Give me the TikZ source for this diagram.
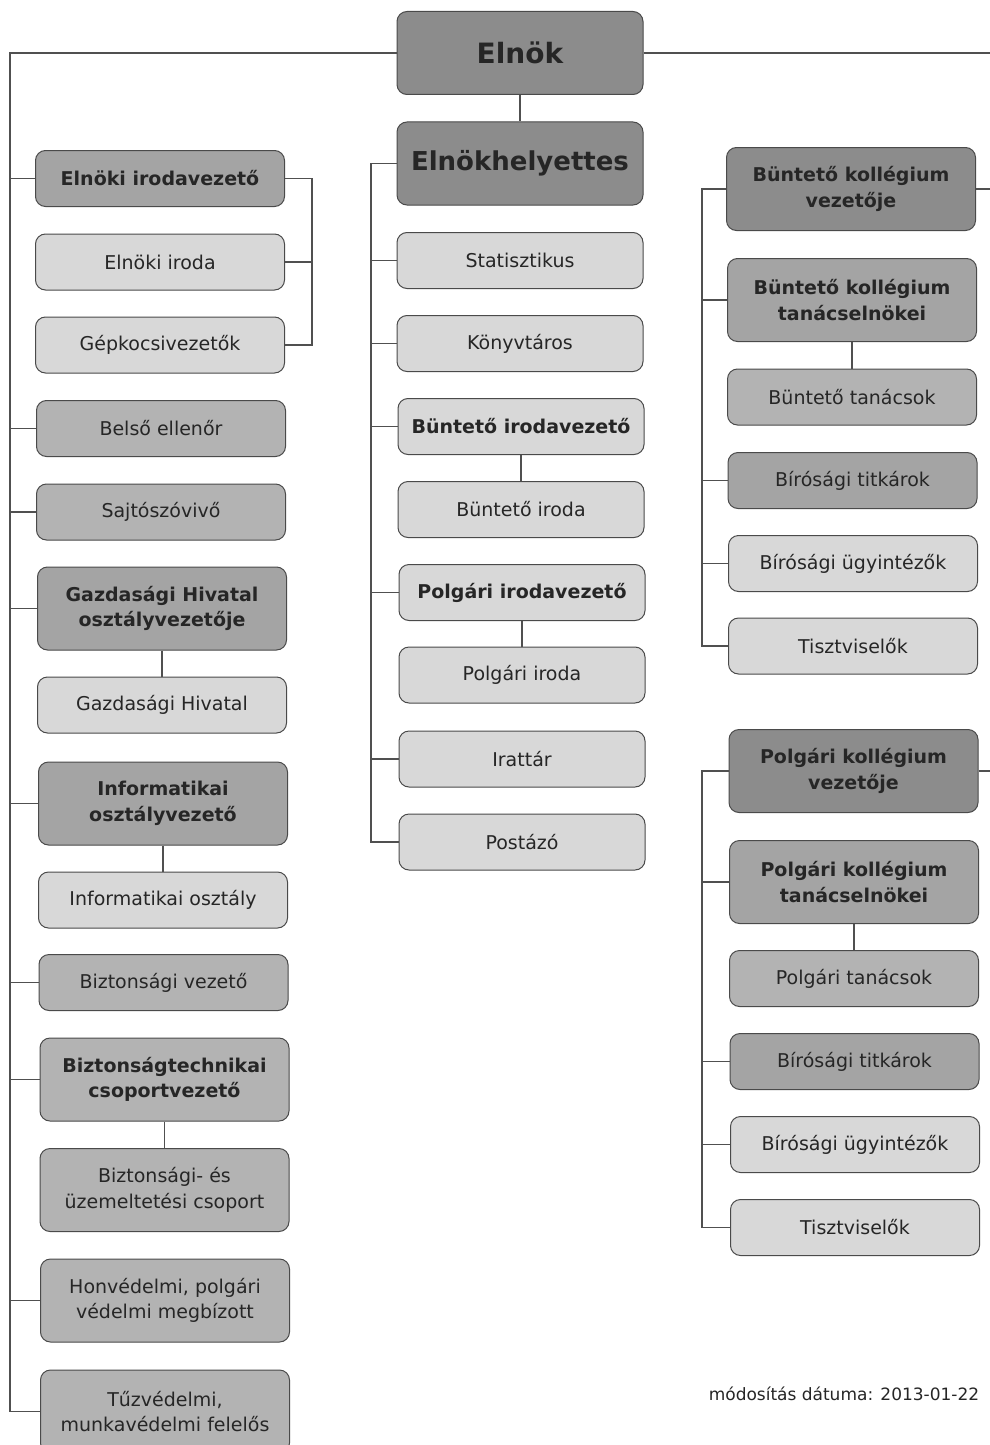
\documentclass[tikz,border=0pt]{standalone}
\usepackage{fontspec}
\setmainfont{DejaVu Sans}
\definecolor{cdark}{HTML}{8C8C8C}
\definecolor{cmdk}{HTML}{A4A4A4}
\definecolor{cmed}{HTML}{B3B3B3}
\definecolor{clite}{HTML}{D8D8D8}
\definecolor{bordc}{HTML}{4A4A4A}
\definecolor{linec}{HTML}{505050}
\definecolor{txtc}{HTML}{262626}
\tikzset{
  box/.style={draw=bordc, line width=0.5pt, rounded corners=5pt, minimum width=124.5pt,
    inner sep=0pt, align=center, text=txtc, font=\fontsize{9.5}{12.7}\selectfont},
  bb/.style={box, font=\fontsize{9.5}{12.7}\selectfont\bfseries},
  big/.style={box, font=\fontsize{13}{16}\selectfont\bfseries, minimum width=123pt, minimum height=41.5pt},
  bigger/.style={font=\fontsize{14}{16}\selectfont\bfseries},
  sg/.style={minimum height=28pt},
  db/.style={minimum height=41.5pt},
  dark/.style={fill=cdark},
  mdk/.style={fill=cmdk},
  med/.style={fill=cmed},
  lite/.style={fill=clite},
  ln/.style={draw=linec, line width=0.55pt}
}
\begin{document}
\begin{tikzpicture}[x=0.5pt,y=-0.5pt]
\useasboundingbox (0,0) rectangle (990,1445);
\fill[white] (0,0) rectangle (990,1445);
% ---------- middle column ----------
\node[big,bigger,dark] (elnok) at (520,53) {Elnök};
\node[big,dark] (elnh) at (520,163.5) {Elnökhelyettes};
\node[box,lite,sg,minimum width=123pt] (stat) at (520,260.5) {Statisztikus};
\node[box,lite,sg,minimum width=123pt] (konyv) at (520,343.5) {Könyvtáros};
\node[bb,lite,sg,minimum width=123pt] (biv) at (521,426.5) {Büntető irodavezető};
\node[box,lite,sg,minimum width=123pt] (biro) at (521,509.5) {Büntető iroda};
\node[bb,lite,sg,minimum width=123pt] (piv) at (522,592.5) {Polgári irodavezető};
\node[box,lite,sg,minimum width=123pt] (piro) at (522,675) {Polgári iroda};
\node[box,lite,sg,minimum width=123pt] (irat) at (522,759) {Irattár};
\node[box,lite,sg,minimum width=123pt] (post) at (522,842) {Postázó};
% ---------- left column ----------
\node[bb,mdk,sg] (eiv) at (160,178.5) {Elnöki irodavezető};
\node[box,lite,sg] (eiro) at (160,262) {Elnöki iroda};
\node[box,lite,sg] (gepk) at (160,345) {Gépkocsivezetők};
\node[box,med,sg] (belso) at (161,428.5) {Belső ellenőr};
\node[box,med,sg] (sajto) at (161,512) {Sajtószóvivő};
\node[bb,mdk,db] (gazdv) at (162,608.5) {Gazdasági Hivatal\\osztályvezetője};
\node[box,lite,sg] (gazdh) at (162,705) {Gazdasági Hivatal};
\node[bb,mdk,db] (infv) at (163,803.5) {Informatikai\\osztályvezető};
\node[box,lite,sg] (info) at (163,900) {Informatikai osztály};
\node[box,med,sg] (bizv) at (163.5,982.5) {Biztonsági vezető};
\node[bb,med,db] (bizt) at (164.5,1079.5) {Biztonságtechnikai\\csoportvezető};
\node[box,med,db] (bizcs) at (164.5,1190) {Biztonsági- és\\üzemeltetési csoport};
\node[box,med,db] (honv) at (165,1300.5) {Honvédelmi, polgári\\védelmi megbízott};
\node[box,med,db] (tuz) at (165,1411.5) {Tűzvédelmi,\\munkavédelmi felelős};
% ---------- right column ----------
\node[bb,dark,db] (bkv) at (851,189) {Büntető kollégium\\vezetője};
\node[bb,mdk,db] (bkt) at (852,300) {Büntető kollégium\\tanácselnökei};
\node[box,med,sg] (btan) at (852,397) {Büntető tanácsok};
\node[box,mdk,sg] (btit) at (852.5,480.5) {Bírósági titkárok};
\node[box,lite,sg] (bugy) at (853,563.5) {Bírósági ügyintézők};
\node[box,lite,sg] (btisz) at (853,646) {Tisztviselők};
\node[bb,dark,db] (pkv) at (853.5,771) {Polgári kollégium\\vezetője};
\node[bb,mdk,db] (pkt) at (854,882) {Polgári kollégium\\tanácselnökei};
\node[box,med,sg] (ptan) at (854,978.5) {Polgári tanácsok};
\node[box,mdk,sg] (ptit) at (854.5,1061.5) {Bírósági titkárok};
\node[box,lite,sg] (pugy) at (855,1144.5) {Bírósági ügyintézők};
\node[box,lite,sg] (ptisz) at (855,1227.5) {Tisztviselők};
% date
\node[text=txtc, font=\fontsize{8.5}{10}\selectfont, inner sep=0pt] (datum) at (844,1394) {módosítás dátuma: 2013-01-22};
% ---------- trunk coordinates ----------
\coordinate (LT) at (10,0);
\coordinate (EB) at (312,0);
\coordinate (MT) at (371,0);
\coordinate (RT) at (702,0);
\coordinate (RE) at (990,0);
% ---------- connectors ----------
\draw[ln] (elnok) -- (elnh);
\draw[ln] (elnok.east) -- (elnok.east -| RE);
\draw[ln] (bkv.east) -- (bkv.east -| RE);
\draw[ln] (pkv.east) -- (pkv.east -| RE);
% left trunk
\draw[ln] (elnok.west) -- (elnok.west -| LT) -- (tuz.west -| LT) -- (tuz.west);
\foreach \n in {eiv,belso,sajto,gazdv,infv,bizv,bizt,honv}
  \draw[ln] (\n.west) -- (\n.west -| LT);
\draw[ln] (eiv.east) -- (eiv.east -| EB) -- (gepk.east -| EB) -- (gepk.east);
\draw[ln] (eiro.east) -- (eiro.east -| EB);
\draw[ln] (gazdv) -- (gazdh);
\draw[ln] (infv) -- (info);
\draw[ln] (bizt) -- (bizcs);
% middle trunk
\draw[ln] (elnh.west) -- (elnh.west -| MT) -- (post.west -| MT) -- (post.west);
\foreach \n in {stat,konyv,biv,piv,irat}
  \draw[ln] (\n.west) -- (\n.west -| MT);
\draw[ln] (biv.south) -- (biro.north);
\draw[ln] (piv.south) -- (piro.north);
% right trunks
\draw[ln] (bkv.west) -- (bkv.west -| RT) -- (btisz.west -| RT) -- (btisz.west);
\foreach \n in {bkt,btit,bugy}
  \draw[ln] (\n.west) -- (\n.west -| RT);
\draw[ln] (bkt.south) -- (btan.north);
\draw[ln] (pkv.west) -- (pkv.west -| RT) -- (ptisz.west -| RT) -- (ptisz.west);
\foreach \n in {pkt,ptit,pugy}
  \draw[ln] (\n.west) -- (\n.west -| RT);
\draw[ln] (pkt.south) -- (ptan.north);
\end{tikzpicture}
\end{document}
